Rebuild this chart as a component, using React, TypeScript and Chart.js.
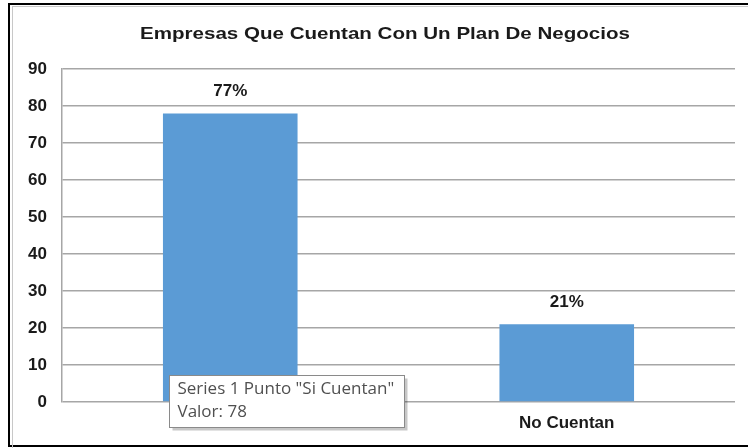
import React, { useEffect, useRef } from "react";
import { Chart, registerables } from "chart.js";

Chart.register(...registerables);

const categories = ["Si Cuentan", "No Cuentan"];
const values = [78, 21];
const valueLabels = ["77%", "21%"];
const yTicks = [0, 10, 20, 30, 40, 50, 60, 70, 80, 90];
const chartTitle = "Empresas Que Cuentan Con Un Plan De Negocios";
const seriesName = "Series 1";
const tooltipIndex = 0;

const FONT = "'Liberation Sans', Arial, sans-serif";

const titlePlugin = {
  id: "stretchedTitle",
  afterDraw(chart: any) {
    const ctx = chart.ctx;
    ctx.save();
    ctx.font = `bold 17px ${FONT}`;
    ctx.fillStyle = "#1a1a1a";
    ctx.textAlign = "center";
    ctx.textBaseline = "middle";
    const cx = 385;
    const w = ctx.measureText(chartTitle).width;
    const sx = 490 / w;
    ctx.translate(cx, 34);
    ctx.scale(sx, 1);
    ctx.fillText(chartTitle, 0, 0);
    ctx.restore();
  },
};

const valueLabelPlugin = {
  id: "valueLabels",
  afterDatasetsDraw(chart: any) {
    const ctx = chart.ctx;
    const meta = chart.getDatasetMeta(0);
    ctx.save();
    ctx.font = `bold 17px ${FONT}`;
    ctx.fillStyle = "#1a1a1a";
    ctx.textAlign = "center";
    ctx.textBaseline = "alphabetic";
    meta.data.forEach((bar: any, i: number) => {
      ctx.fillText(valueLabels[i], bar.x, bar.y - 17);
    });
    ctx.restore();
  },
};

const staticTooltipPlugin = {
  id: "staticTooltip",
  afterDraw(chart: any) {
    const ctx = chart.ctx;
    const bar = chart.getDatasetMeta(0).data[tooltipIndex];
    const y0 = chart.scales.y.getPixelForValue(0);
    const left = Math.round(bar.x - 61) + 0.5;
    const top = Math.round(y0 - 27) + 0.5;
    const line1 = `${seriesName} Punto "${categories[tooltipIndex]}"`;
    const line2 = `Valor: ${values[tooltipIndex]}`;
    ctx.save();
    ctx.font = `17px 'Open Sans', 'Noto Sans', sans-serif`;
    const w = Math.ceil(Math.max(ctx.measureText(line1).width, ctx.measureText(line2).width)) + 18;
    const h = 52;
    ctx.fillStyle = "rgba(0,0,0,0.22)";
    ctx.fillRect(left + 3, top + 3, w, h);
    ctx.fillStyle = "#ffffff";
    ctx.fillRect(left, top, w, h);
    ctx.strokeStyle = "#8a8a8a";
    ctx.lineWidth = 1;
    ctx.strokeRect(left, top, w, h);
    ctx.fillStyle = "#505050";
    ctx.textAlign = "left";
    ctx.textBaseline = "middle";
    ctx.fillText(line1, left + 8, top + 14);
    ctx.fillText(line2, left + 8, top + 37);
    ctx.restore();
  },
};

export default function App() {
  const canvasRef = useRef<HTMLCanvasElement | null>(null);

  useEffect(() => {
    if (!canvasRef.current) return;
    const chart = new Chart(canvasRef.current, {
      type: "bar",
      data: {
        labels: categories,
        datasets: [
          {
            label: seriesName,
            data: values,
            backgroundColor: "#5b9bd5",
            borderWidth: 0,
            categoryPercentage: 0.8,
            barPercentage: 0.5,
          },
        ],
      },
      options: {
        animation: false,
        responsive: false,
        maintainAspectRatio: false,
        events: [],
        layout: { padding: { left: 0, right: 13, top: 69, bottom: 16 } },
        plugins: {
          legend: { display: false },
          tooltip: { enabled: false },
          title: { display: false },
        },
        scales: {
          x: {
            grid: { display: false, drawTicks: false },
            border: { display: false },
            ticks: {
              color: "#1a1a1a",
              font: { family: FONT, size: 17, weight: "bold" },
              padding: 11,
            },
            afterFit(scale: any) {
              scale.height = 30;
            },
          },
          y: {
            min: 0,
            max: 90,
            afterBuildTicks(scale: any) {
              scale.ticks = yTicks.map((v) => ({ value: v }));
            },
            grid: { color: "#a6a6a6", lineWidth: 1.5, drawTicks: false },
            border: { display: true, color: "#a6a6a6", width: 1.5 },
            ticks: {
              color: "#1a1a1a",
              font: { family: FONT, size: 17, weight: "bold" },
              padding: 15,
            },
            afterFit(scale: any) {
              scale.width = 62;
            },
          },
        },
      },
      plugins: [valueLabelPlugin, titlePlugin, staticTooltipPlugin],
    });
    return () => chart.destroy();
  }, []);

  return (
    <div style={{ position: "fixed", left: 0, top: 0, width: 748, height: 448, background: "#fff", overflow: "hidden" }}>
      <div
        style={{
          position: "absolute",
          left: 8,
          top: 3,
          width: 800,
          height: 440,
          borderTop: "2px solid #000",
          borderLeft: "2px solid #000",
          borderBottom: "2px solid #000",
        }}
      />
      <div
        style={{
          position: "absolute",
          left: 12,
          top: 6,
          width: 800,
          height: 500,
          borderTop: "1px solid #c8c8c8",
          borderLeft: "1px solid #c8c8c8",
        }}
      />
      <canvas ref={canvasRef} width={748} height={448} style={{ position: "absolute", left: 0, top: 0 }} />
    </div>
  );
}
